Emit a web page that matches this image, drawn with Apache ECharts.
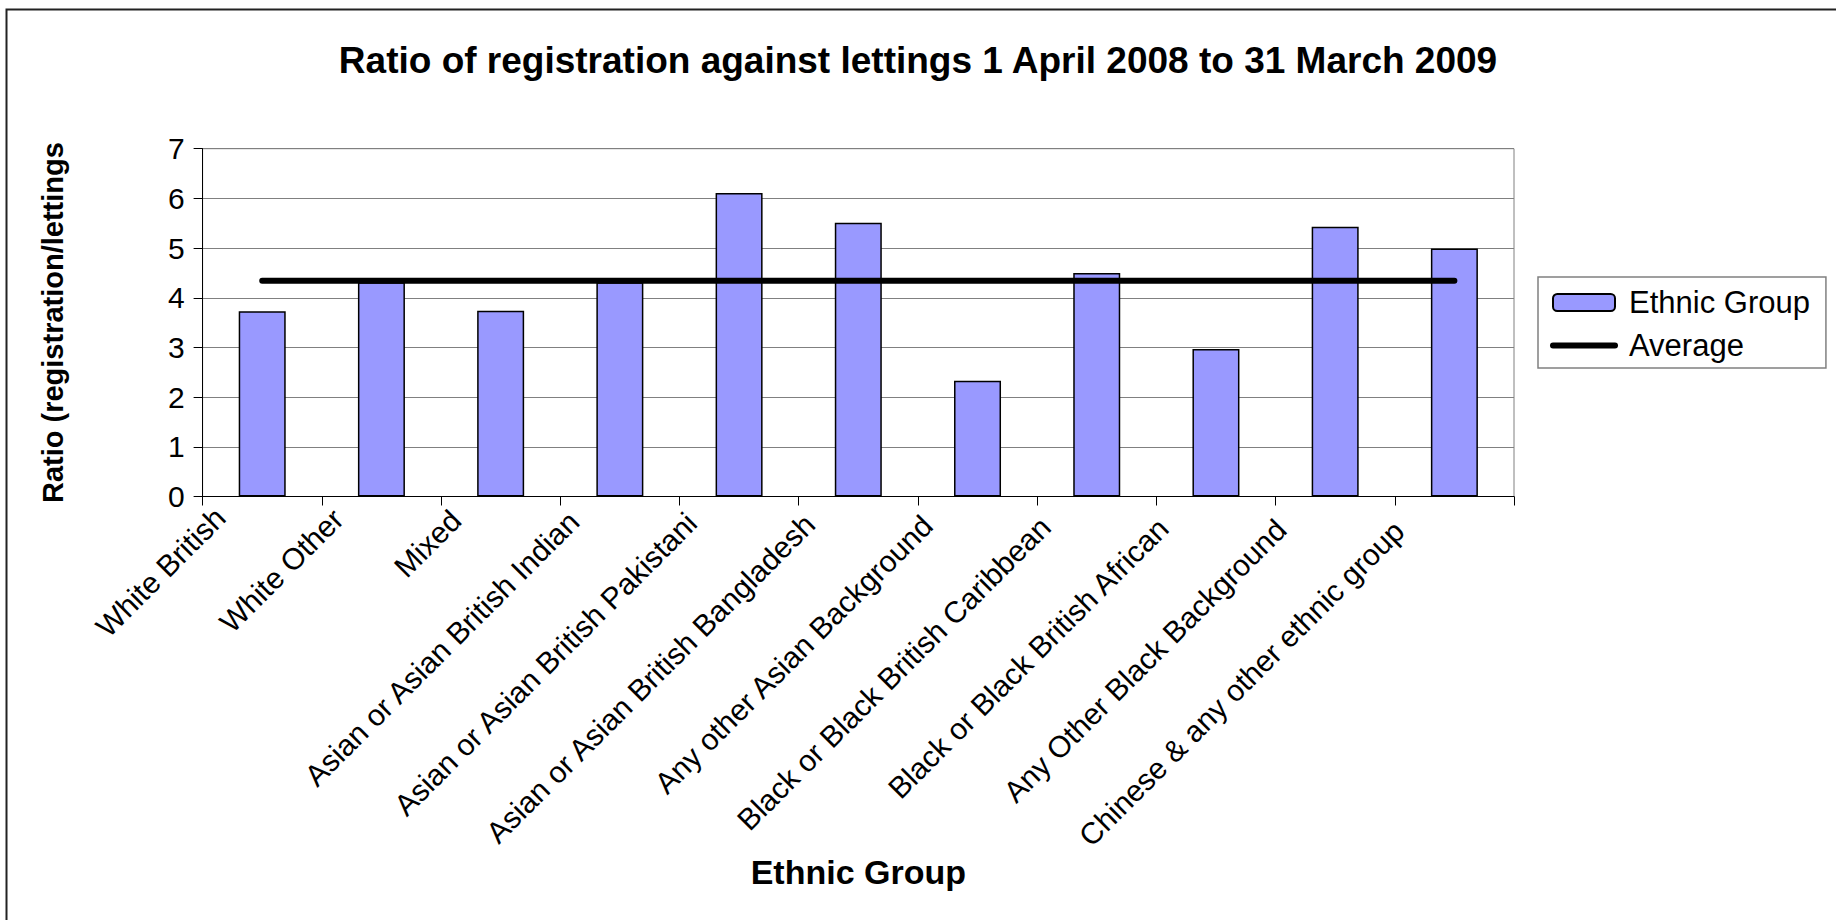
<!DOCTYPE html>
<html>
<head>
<meta charset="utf-8">
<title>Ratio of registration against lettings</title>
<script src="https://cdn.jsdelivr.net/npm/echarts@6/dist/echarts.min.js"></script>
<style>
  html, body { margin: 0; padding: 0; background: #ffffff; }
  #chart { width: 1836px; height: 920px; }
</style>
</head>
<body>
<div id="chart"></div>
<script>
// Ethnic groups on the category axis
const categories = [
  'White British',
  'White Other',
  'Mixed',
  'Asian or Asian British Indian',
  'Asian or Asian British Pakistani',
  'Asian or Asian British Bangladesh',
  'Any other Asian Background',
  'Black or Black British Caribbean',
  'Black or Black British African',
  'Any Other Black Background',
  'Chinese & any other ethnic group'
];

// Registrations per letting for each group
const ratioValues = [3.73, 4.31, 3.74, 4.31, 6.11, 5.51, 2.33, 4.50, 2.97, 5.43, 4.99];

// Overall average ratio, drawn as a flat line across the groups
const averageValues = [4.34, 4.34, 4.34, 4.34, 4.34, 4.34, 4.34, 4.34, 4.34, 4.34, 4.34];

// Value axis range and step
const yMin = 0;
const yMax = 7;
const yStep = 1;

const FONT = '"Liberation Sans", Arial, Helvetica, sans-serif';

// The slanted category labels sit a little left of their slots and slide a bit
// further along their slant towards the right-hand end of the axis; this is done
// with right padding that grows slightly from label to label.
const LABEL_PAD = 69;        // base right padding of a slanted label, px
const LABEL_PAD_STEP = 1.9;  // extra padding per category, px
const mid = (categories.length - 1) / 2;
const categoryItems = categories.map(function (name, i) {
  return {
    value: name,
    textStyle: { padding: [0, LABEL_PAD + LABEL_PAD_STEP * (i - mid), 0, 0] }
  };
});

const chart = echarts.init(document.getElementById('chart'), null, { renderer: 'svg' });

chart.setOption({
  animation: false,
  backgroundColor: '#ffffff',
  textStyle: { fontFamily: FONT, color: '#000000' },
  title: {
    text: 'Ratio of registration against lettings 1 April 2008 to 31 March 2009',
    left: 'center',
    top: 37,
    textStyle: { fontFamily: FONT, fontSize: 37, fontWeight: 'bold', color: '#000000' }
  },
  legend: {
    orient: 'vertical',
    left: 1538,
    top: 277,
    padding: [10, 16, 7, 12],
    itemGap: 12,
    itemWidth: 62,
    itemHeight: 17,
    borderColor: '#808080',
    borderWidth: 1.5,
    backgroundColor: '#ffffff',
    textStyle: { fontFamily: FONT, fontSize: 31, lineHeight: 31, color: '#000000', padding: [0, 0, 0, 9] },
    data: [
      'Ethnic Group',
      {
        name: 'Average',
        itemStyle: { color: 'rgba(0,0,0,0)', borderColor: 'rgba(0,0,0,0)', borderWidth: 0, opacity: 0 },
        lineStyle: { color: '#000000', width: 6, cap: 'round' }
      }
    ]
  },
  grid: {
    left: 202.6,
    right: 322,
    top: 148.7,
    bottom: 423.5,
    show: true,
    borderColor: '#808080',
    borderWidth: 1,
    backgroundColor: 'transparent'
  },
  xAxis: {
    type: 'category',
    data: categoryItems,
    name: 'Ethnic Group',
    nameLocation: 'middle',
    nameGap: 358,
    nameTextStyle: { fontFamily: FONT, fontSize: 34, fontWeight: 'bold', color: '#000000' },
    axisLine: { show: true, lineStyle: { color: '#000000', width: 1 } },
    axisTick: { show: true, length: 9, lineStyle: { color: '#000000', width: 1 } },
    axisLabel: {
      rotate: 45,
      interval: 0,
      fontFamily: FONT,
      fontSize: 30,
      color: '#000000',
      margin: -26,
      padding: [0, LABEL_PAD, 0, 0]
    },
    splitLine: { show: false }
  },
  yAxis: {
    type: 'value',
    min: yMin,
    max: yMax,
    interval: yStep,
    name: 'Ratio (registration/lettings',
    nameLocation: 'middle',
    nameGap: 135,
    nameTextStyle: { fontFamily: FONT, fontSize: 29, fontWeight: 'bold', color: '#000000' },
    axisLine: { show: true, lineStyle: { color: '#000000', width: 1 } },
    axisTick: { show: true, length: 9, lineStyle: { color: '#000000', width: 1 } },
    axisLabel: { fontFamily: FONT, fontSize: 30, color: '#000000', margin: 18 },
    splitLine: { show: true, lineStyle: { color: '#808080', width: 1 } }
  },
  series: [
    {
      name: 'Ethnic Group',
      type: 'bar',
      data: ratioValues,
      barWidth: 47,
      itemStyle: { color: '#9999FF', borderColor: '#000000', borderWidth: 1.5 }
    },
    {
      name: 'Average',
      type: 'line',
      data: averageValues,
      symbol: 'none',
      showSymbol: false,
      z: 3,
      lineStyle: { color: '#000000', width: 6, cap: 'round' }
    }
  ],
  graphic: [
    {
      type: 'rect',
      silent: true,
      z: -1,
      shape: { x: 6.5, y: 9.5, width: 1900, height: 1000 },
      style: { fill: 'none', stroke: '#222222', lineWidth: 2 }
    }
  ]
});
</script>
</body>
</html>
